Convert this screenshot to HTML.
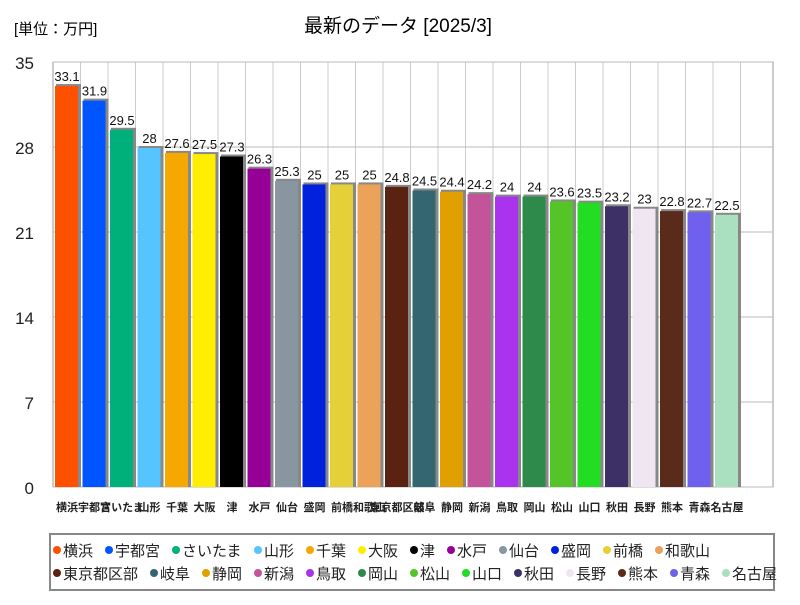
<!DOCTYPE html>
<html><head><meta charset="utf-8"><style>
body{margin:0;background:#fff;font-family:"Liberation Sans","Noto Sans CJK JP",sans-serif;}
svg text{font-family:"Liberation Sans","Noto Sans CJK JP",sans-serif;}
</style></head><body>
<svg id="c" width="800" height="600">
<text x="14" y="34" font-size="15">[単位：万円]</text>
<text x="398" y="32" font-size="19" text-anchor="middle">最新のデータ [2025/3]</text>
<g id="grid"></g><g id="bars"></g><g id="labels"></g>
<rect x="50" y="534" width="724" height="56" fill="#fff" stroke="#888" stroke-width="2"/>
<g id="legend"></g>
</svg>
<script>
const categories=["横浜","宇都宮","さいたま","山形","千葉","大阪","津","水戸","仙台","盛岡","前橋","和歌山","東京都区部","岐阜","静岡","新潟","鳥取","岡山","松山","山口","秋田","長野","熊本","青森","名古屋"];
const values=[33.1,31.9,29.5,28,27.6,27.5,27.3,26.3,25.3,25,25,25,24.8,24.5,24.4,24.2,24,24,23.6,23.5,23.2,23,22.8,22.7,22.5];
const yTicks=[0,7,14,21,28,35];
const colors=["#ff5000","#0055ff","#00b07a","#55c4ff","#f5a800","#ffee00","#000000","#960096","#8896a0","#0022dd","#e6d03a","#eda25a","#5a2210","#336670","#e0a000","#c4549a","#aa33ee","#2e8a4a","#55c428","#22dd22","#3c3066","#f0e6f2","#5a2a1a","#7060ee","#aadfbf"];
const NS="http://www.w3.org/2000/svg";
const X0=53,SLOT=27.5,Y0=487,YT=62,YMAX=35,XR=773;
const y=v=>Y0-(v/YMAX)*(Y0-YT);
const x=i=>X0+i*SLOT;
function mk(t,a,p){const e=document.createElementNS(NS,t);for(const k in a)e.setAttribute(k,a[k]);p.appendChild(e);return e;}
const g=document.getElementById('grid');
let r=mk('rect',{x:X0,y:YT,width:XR-X0,height:Y0-YT,fill:'#fff',stroke:'#999'},g);


for(let i=1;i<=categories.length;i++){let l=mk('line',{x1:x(i),x2:x(i),y1:YT,y2:Y0,stroke:'#ccc'},g);

}
yTicks.forEach(t=>{let l=mk('line',{x1:X0,x2:XR,y1:y(t),y2:y(t),stroke:'#bbb'},g);


let tx=mk('text',{x:34,y:y(t)+7,'font-size':17,'text-anchor':'end',fill:'#222'},g);tx.textContent=t;

});
const b=document.getElementById('bars'),lb=document.getElementById('labels');
values.forEach((v,i)=>{
 let s=mk('rect',{x:x(i)+3,y:y(v)-1,width:25,height:Y0-y(v)+1,fill:'#888'},b);
 
 
 let e=mk('rect',{x:x(i)+2,y:y(v)+1,width:23,height:Y0-y(v)-1,fill:colors[i]},b);
 
 
 let t=mk('text',{x:x(i)+14,y:y(v)-4,'font-size':13,'text-anchor':'middle',fill:'#111','font-family':'Liberation Mono, monospace'},lb);t.textContent=v;
 
 
 let c=mk('text',{x:x(i)+14,y:511,'font-size':11,'font-weight':'bold','text-anchor':'middle',fill:'#222'},lb);c.textContent=categories[i];
 
 
});
const lg=document.getElementById('legend');
let lx=57,row=0;
categories.forEach((c,i)=>{
 if(i===12){row=1;lx=57;}
 const yy=row?573:550;
 let d=mk('circle',{cx:lx,cy:yy,r:4,fill:colors[i]},lg);
 
 
 let t=mk('text',{x:lx+6,y:yy+6,'font-size':15,fill:'#222'},lg);t.textContent=c;
 
 
 lx+=6+c.length*15+16;
});
</script>
</body></html>
